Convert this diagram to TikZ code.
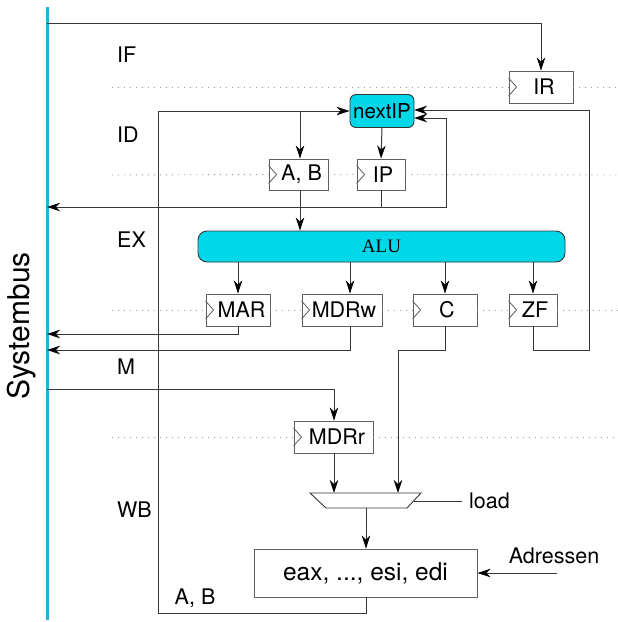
\documentclass[tikz,border=0pt]{standalone}
\usepackage{fontspec}
\newfontfamily\hv{TeX Gyre Heros}
\newfontfamily\tms{Liberation Serif}
\usetikzlibrary{arrows.meta,calc}
\definecolor{cy}{RGB}{0,215,232}
\definecolor{busc}{RGB}{30,180,220}
\definecolor{ln}{RGB}{55,55,55}
\definecolor{bx}{RGB}{95,95,95}
\definecolor{dotc}{RGB}{150,150,150}
\begin{document}
\begin{tikzpicture}[x=1pt,y=-1pt,
  every node/.style={font=\hv\fontsize{21.5}{25}\selectfont, inner sep=0pt, text=black},
  reg/.style={draw=bx, line width=0.9pt, fill=white, minimum height=32pt},
  cybox/.style={draw=ln, line width=0.9pt, fill=cy},
  wire/.style={draw=ln, line width=1pt},
  arr/.style={wire, -{Stealth[length=13pt,width=8.5pt,inset=4pt,color=black]}},
  dotl/.style={draw=dotc, line width=0.9pt, dash pattern=on 1pt off 5pt},
  stage/.style={anchor=west}
]
\useasboundingbox (0,0) rectangle (618,622);

% Systembus
\coordinate (sbT) at (47,7);
\coordinate (sbB) at (47,620);
\draw[busc, line width=3pt] (sbT) -- (sbB);
\node[rotate=90, font=\hv\fontsize{30}{34}\selectfont] (sblabel) at (22,326) {Systembus};

% stage labels
\node[stage] (IF) at (117,55) {IF};
\node[stage] (ID) at (117,135) {ID};
\node[stage] (EX) at (117,240) {EX};
\node[stage] (M)  at (117,367) {M};
\node[stage] (WB) at (117,510) {WB};

% registers and units
\node[reg, minimum width=64pt] (IR) at (541,87) {\hspace{6pt}IR};
\node[cybox, rounded corners=6pt, minimum width=64pt, minimum height=33pt, font=\hv\fontsize{20.5}{24}\selectfont] (nextIP) at (382,111) {nextIP};
\node[reg, minimum width=59pt, minimum height=31pt] (AB) at (298.5,174.5) {\hspace{6pt}A, B};
\node[reg, minimum width=48pt, minimum height=31pt] (IP) at (381,174.5) {\hspace{4pt}IP};
\node[cybox, rounded corners=9pt, minimum width=367pt, minimum height=31pt, font=\tms\fontsize{19}{22}\selectfont] (ALU) at (381.5,246.5) {ALU};
\node[reg, minimum width=64pt] (MAR) at (238,310) {\hspace{7pt}MAR};
\node[reg, minimum width=80pt] (MDRw) at (342,310) {\hspace{4pt}MDRw};
\node[reg, minimum width=64pt] (C) at (445,310) {\hspace{4pt}C};
\node[reg, minimum width=48pt] (ZF) at (533,310) {\hspace{4pt}ZF};
\node[reg, minimum width=79pt] (MDRr) at (333.5,437) {\hspace{7pt}MDRr};
\node[reg, minimum width=223pt, minimum height=48pt, font=\hv\fontsize{24.5}{28}\selectfont] (eax) at (365.5,573) {eax, ..., esi, edi};

% clock triangles
\foreach \r in {IR,AB,IP,MAR,MDRw,C,ZF,MDRr}
  \draw[bx, line width=0.8pt] ($(\r.west)+(0,-9)$) -- ($(\r.west)+(8,0)$) -- ($(\r.west)+(0,9)$);

% mux
\coordinate (muxL) at (334,493);
\coordinate (muxR) at (398,493);
\coordinate (muxB) at (366,508);
\coordinate (muxLoad) at (414,501);
\draw[draw=ln, line width=0.9pt, fill=white] (310,493) -- (421,493) -- (407,508) -- (326,508) -- cycle;

% dotted stage boundaries
\coordinate (d1a) at (112,87);  \coordinate (d1b) at (618,87);
\coordinate (d2a) at (112,175); \coordinate (d2b) at (618,175);
\coordinate (d3a) at (112,310); \coordinate (d3b) at (618,310);
\coordinate (d4a) at (112,437); \coordinate (d4b) at (618,437);
\draw[dotl] (d1a) -- (IR.west) (IR.east) -- (d1b);
\draw[dotl] (d2a) -- (AB.west) (AB.east) -- (IP.west) (IP.east) -- (d2b);
\draw[dotl] (d3a) -- (MAR.west) (MAR.east) -- (MDRw.west) (MDRw.east) -- (C.west) (C.east) -- (ZF.west) (ZF.east) -- (d3b);
\draw[dotl] (d4a) -- (MDRr.west) (MDRr.east) -- (d4b);

% connectors
\coordinate (busIR) at (47,23);
\draw[arr] (busIR) -| (IR.north);

\coordinate (fb1) at (366,613);
\coordinate (fb2) at (158,613);
\coordinate (fb3) at (158,111);
\draw[arr] (eax.south -| fb1) |- (fb2) -- (fb3) -- (nextIP.west);
\coordinate (abtap) at (300,111);
\draw[arr] (abtap) -- (AB.north -| abtap);

\draw[arr] (nextIP.south) -- (IP.north);

\coordinate (ipj) at (381,207);
\coordinate (ipbus) at (47,207);
\coordinate (ipr) at (446,207);
\coordinate (ipin) at (414,118);
\draw[arr] (IP.south) -- (ipj) -- (ipbus);
\draw[arr] (ipj) -- (ipr) |- (ipin);

\draw[arr] (AB.south -| abtap) -- (ALU.north -| abtap);

\coordinate (xMDRw) at (350,0);
\draw[arr] (ALU.south -| MAR) -- (MAR.north);
\draw[arr] (ALU.south -| xMDRw) -- (MDRw.north -| xMDRw);
\draw[arr] (ALU.south -| C) -- (C.north);
\draw[arr] (ALU.south -| ZF) -- (ZF.north);

\coordinate (marb) at (238,334);
\coordinate (marbus) at (47,334);
\draw[arr] (MAR.south) -- (marb) -- (marbus);

\coordinate (mdrb) at (350,350);
\coordinate (mdrbus) at (47,350);
\draw[arr] (MDRw.south -| mdrb) -- (mdrb) -- (mdrbus);

\coordinate (cb1) at (445,350);
\coordinate (cb2) at (398,350);
\draw[arr] (C.south) -- (cb1) -- (cb2) -- (muxR);

\coordinate (zf1) at (533,350);
\coordinate (zf2) at (589,350);
\coordinate (zf3) at (589,110);
\coordinate (zfin) at (414,110);
\draw[arr] (ZF.south) -- (zf1) -- (zf2) -- (zf3) -- (zfin);

\coordinate (busM) at (47,389);
\coordinate (mdrrt) at (334,389);
\draw[arr] (busM) -- (mdrrt) -- (MDRr.north -| mdrrt);

\draw[arr] (MDRr.south -| muxL) -- (muxL);
\draw[arr] (muxB) -- (eax.north -| muxB);

\coordinate (loadEnd) at (462,501);
\draw[wire] (muxLoad) -- (loadEnd);
\node[anchor=west] (load) at (469,501) {load};

\node (adr) at (554,556) {Adressen};
\coordinate (adrStart) at (557,573);
\draw[arr] (adrStart) -- (eax.east);

\node (ablab) at (195,598) {A, B};
\end{tikzpicture}
\end{document}
